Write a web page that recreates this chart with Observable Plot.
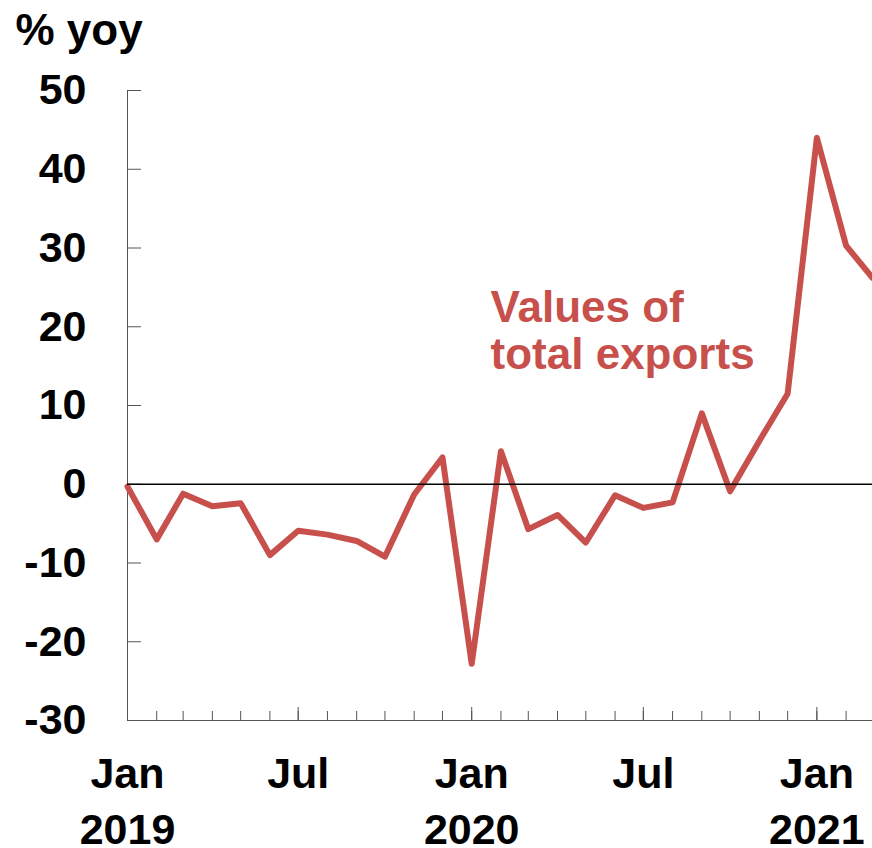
<!DOCTYPE html>
<html><head><meta charset="utf-8">
<script src="https://cdn.jsdelivr.net/npm/d3@7"></script>
<script src="https://cdn.jsdelivr.net/npm/@observablehq/plot@0.6"></script>
<style>body{margin:0;background:#fff}</style>
</head><body><div id="chart"></div>
<script>
const months = ["2019-01","2019-02","2019-03","2019-04","2019-05","2019-06","2019-07","2019-08","2019-09","2019-10","2019-11","2019-12",
  "2020-01","2020-02","2020-03","2020-04","2020-05","2020-06","2020-07","2020-08","2020-09","2020-10","2020-11","2020-12",
  "2021-01","2021-02","2021-03"];
const exportsYoY = [-0.3,-7.0,-1.2,-2.8,-2.4,-9.0,-5.9,-6.4,-7.2,-9.2,-1.3,3.4,
  -22.8,4.2,-5.7,-3.9,-7.4,-1.4,-3.0,-2.3,9.0,-0.9,5.5,11.5,
  44.0,30.3,26.2];
const yTicks = [-30,-20,-10,0,10,20,30,40,50];
const labelMonths = ["2019-01","2019-07","2020-01","2020-07","2021-01"];
const yTitle = "% yoy";
const seriesLabel = "Values of\ntotal exports";
const seriesLabelAt = {month: "2020-01-21", value: 24.9};

const parse = d3.utcParse("%Y-%m");
const parseDay = d3.utcParse("%Y-%m-%d");
const data = months.map((m, i) => ({date: parse(m), value: exportsYoY[i]}));
const monthDates = months.map(parse);
const labelDates = labelMonths.map(parse);
const red = "#c8504c";
const axisColor = "#555";

const fmt = d => d.getUTCMonth() === 0 ? `Jan\n${d.getUTCFullYear()}` : "Jul";

const chart = Plot.plot({
  width: 872, height: 848,
  marginTop: 90, marginBottom: 128, marginLeft: 127, marginRight: 0,
  x: {type: "utc", domain: [monthDates[0], monthDates[monthDates.length - 1]]},
  y: {domain: [-30, 50]},
  style: {fontFamily: "'Liberation Sans', Arial, sans-serif", fontWeight: "bold", fontSize: "43px", color: "#000", background: "#fff", overflow: "hidden"},
  marks: [
    Plot.ruleX([monthDates[0]], {stroke: axisColor}),
    Plot.ruleY([-30], {stroke: axisColor}),
    Plot.axisY(yTicks, {tickSize: 14, dx: 14, tickPadding: 41, tickFormat: d => String(d), label: null, stroke: axisColor, fill: "#000"}),
    Plot.axisX(monthDates, {tickSize: 9, dy: -9, tickFormat: () => "", label: null, stroke: axisColor}),
    Plot.axisX(labelDates, {tickSize: 13, dy: -13, tickPadding: 28, tickFormat: fmt, lineHeight: 1.3, label: null, stroke: axisColor, fill: "#000"}),
    Plot.line(data, {x: "date", y: "value", stroke: red, strokeWidth: 6}),
    Plot.ruleY([0], {stroke: "#000", strokeWidth: 1.5}),
    Plot.text([{date: parseDay(seriesLabelAt.month), value: seriesLabelAt.value, label: seriesLabel}],
      {x: "date", y: "value", text: "label", textAnchor: "start", lineAnchor: "top", lineHeight: 1.07, fill: red, fontSize: 44}),
    Plot.text([yTitle], {text: d => d, frameAnchor: "top-left", dx: -112, dy: -77, lineAnchor: "top", textAnchor: "start", fontSize: 44, fill: "#000"})
  ]
});
document.getElementById("chart").appendChild(chart);
</script>
</body></html>
